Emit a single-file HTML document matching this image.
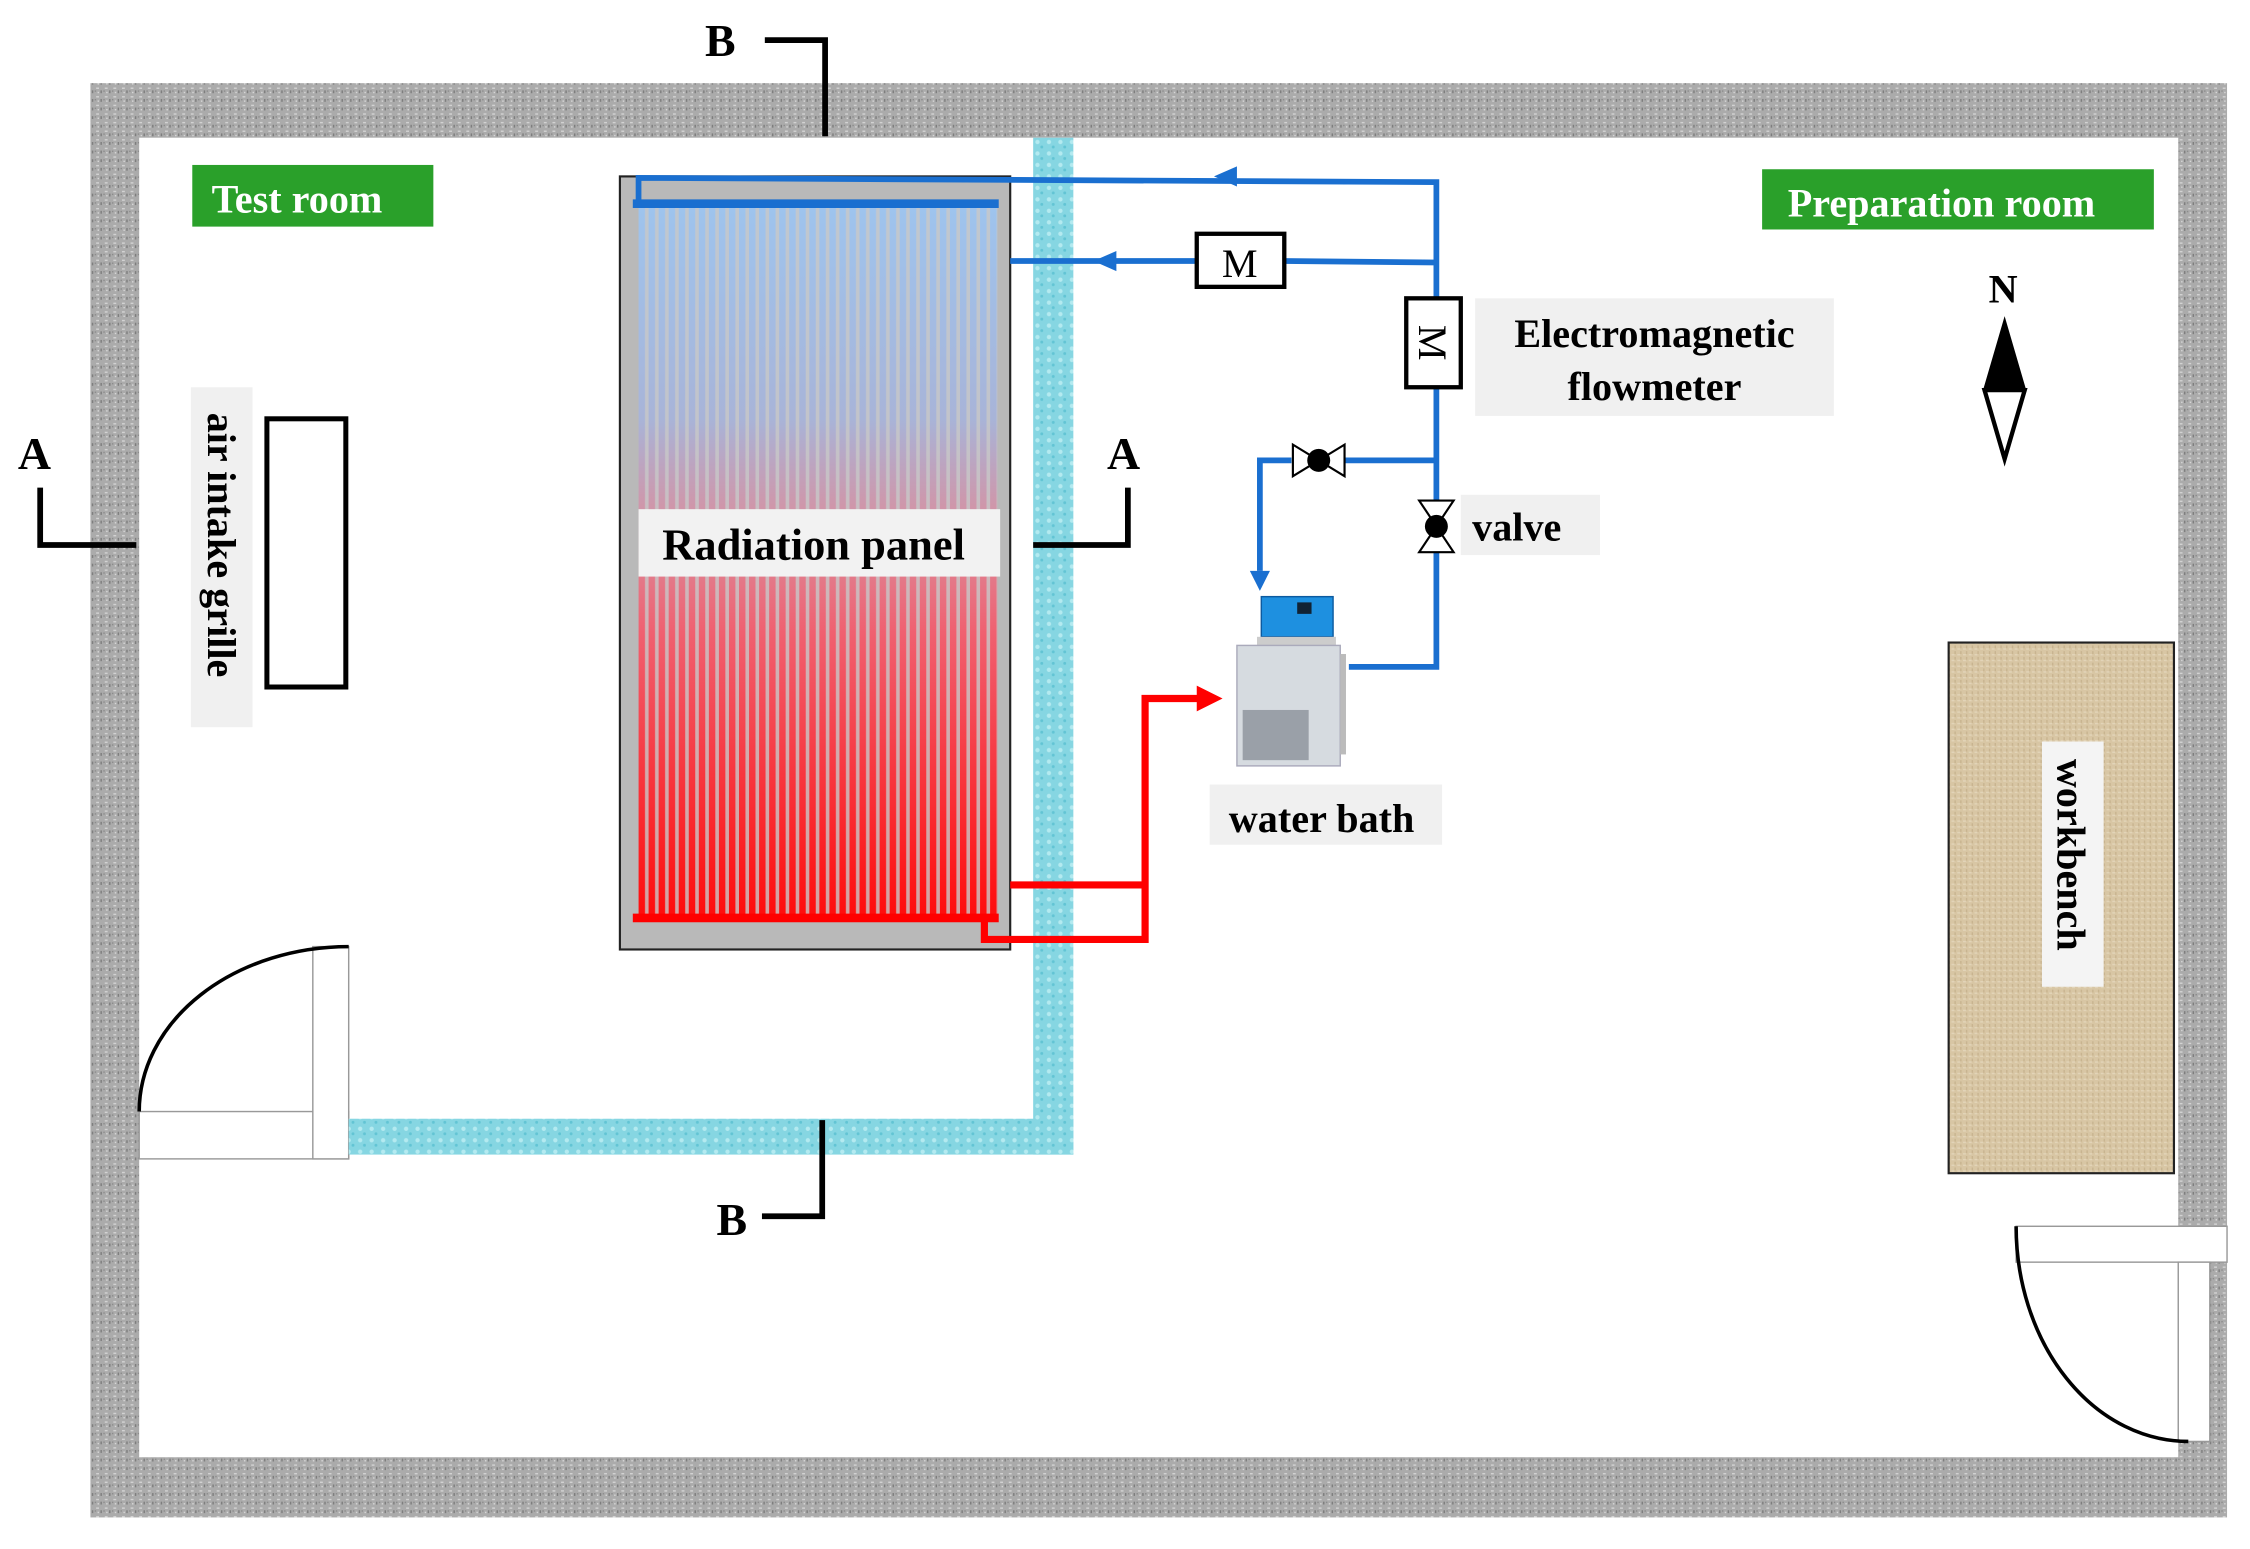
<!DOCTYPE html>
<html><head><meta charset="utf-8"><style>
html,body{margin:0;padding:0;background:#fff;}
svg{display:block;}
text{font-family:"Liberation Serif",serif;font-weight:bold;fill:#000;}
</style></head><body>
<svg width="2250" height="1549" viewBox="0 0 1568 1080" preserveAspectRatio="none" xmlns="http://www.w3.org/2000/svg">
<defs>
<linearGradient id="tube" x1="0" y1="0" x2="0" y2="1">
<stop offset="0" stop-color="#9ec4ee"/>
<stop offset="0.3" stop-color="#a8b4d8"/>
<stop offset="0.45" stop-color="#d890a0"/>
<stop offset="0.6" stop-color="#f06070"/>
<stop offset="1" stop-color="#ff0c0c"/>
</linearGradient>
<pattern id="stripes" x="445" y="0" width="7" height="10" patternUnits="userSpaceOnUse">
<rect x="4.5" y="0" width="2.5" height="10" fill="#c8c8c8" opacity="0.8"/>
</pattern>
<pattern id="wall" width="6" height="6" patternUnits="userSpaceOnUse">
<rect width="6" height="6" fill="#ababab"/>
<rect x="1" y="1" width="2" height="1" fill="#d2d2d2"/>
<rect x="4" y="3" width="1" height="2" fill="#7e7e7e"/>
<rect x="2" y="4" width="1" height="1" fill="#d6d6d6"/>
<rect x="0" y="3" width="1" height="1" fill="#8c8c8c"/>
</pattern>
<pattern id="glass" width="8" height="8" patternUnits="userSpaceOnUse">
<rect width="8" height="8" fill="#86d6e2"/>
<circle cx="3" cy="3" r="1.5" fill="#b4eaf0"/>
<circle cx="6" cy="6.5" r="1" fill="#62c4d4"/>
</pattern>
<pattern id="wood" width="4" height="4" patternUnits="userSpaceOnUse">
<rect width="4" height="4" fill="#d8c6a4"/>
<rect x="0" y="0" width="2" height="1" fill="#e2d4b8"/>
<rect x="2" y="2" width="1" height="2" fill="#c8b490"/>
</pattern>
</defs>

<rect x="63" y="58" width="1489" height="1000" fill="url(#wall)"/>
<rect x="97" y="96" width="1421" height="920" fill="#fff"/>

<rect x="97" y="775" width="146" height="33" fill="#fff" stroke="#999" stroke-width="1"/>
<rect x="218" y="660" width="25" height="148" fill="#fff" stroke="#999" stroke-width="1"/>
<path d="M97,775 A146,115 0 0 1 243,660" fill="none" stroke="#000" stroke-width="2.5"/>
<rect x="1405" y="855" width="147" height="25" fill="#fff" stroke="#999" stroke-width="1"/>
<rect x="1518" y="880" width="22" height="125" fill="#fff" stroke="#999" stroke-width="1"/>
<path d="M1405,855 A120,150 0 0 0 1525,1005" fill="none" stroke="#000" stroke-width="2.5"/>

<rect x="720" y="96" width="28" height="709" fill="url(#glass)"/>
<rect x="243" y="780" width="505" height="25" fill="url(#glass)"/>

<rect x="432" y="123" width="272" height="539" fill="#b9b9b9" stroke="#222" stroke-width="1.5"/>
<rect x="445" y="143" width="250" height="497" fill="url(#tube)"/>
<rect x="445" y="143" width="250" height="497" fill="url(#stripes)"/>
<rect x="445" y="355" width="252" height="47" fill="#f2f2f2"/>
<text x="567" y="390" font-size="31" text-anchor="middle">Radiation panel</text>

<g stroke="#1a6fd0" stroke-width="4" fill="none">
<line x1="441" y1="142" x2="696" y2="142" stroke-width="6"/>
<polyline points="445,142 445,124 1001,127 1001,465 940,465"/>
<polyline points="704,182 834,182"/>
<polyline points="895,182 1001,183"/>
<polyline points="1001,321 937,321"/>
<polyline points="900,321 878,321 878,398"/>
</g>
<g fill="#1a6fd0">
<polygon points="846,123 862,116 862,130"/>
<polygon points="762,182 778,175 778,189"/>
<polygon points="871,398 885,398 878,412"/>
</g>
<rect x="834" y="163" width="61" height="37" fill="#fff" stroke="#000" stroke-width="3"/>
<text x="864" y="193" font-size="28" text-anchor="middle" style="font-weight:normal">M</text>
<rect x="980" y="208" width="38" height="62" fill="#fff" stroke="#000" stroke-width="3"/>
<text x="0" y="0" font-size="28" text-anchor="middle" style="font-weight:normal" transform="translate(989,239) rotate(90)">M</text>
<g stroke="#000" stroke-width="1.5" fill="#fff">
<polygon points="901,310 901,332 937,310 937,332"/>
<polygon points="989,349 1013,349 989,385 1013,385"/>
</g>
<circle cx="919" cy="321" r="8" fill="#000"/>
<circle cx="1001" cy="367" r="8" fill="#000"/>

<g>
<rect x="879" y="416" width="50" height="28" fill="#1e90e0" stroke="#0c5aa0" stroke-width="1"/>
<rect x="904" y="420" width="10" height="8" fill="#123"/>
<rect x="876" y="444" width="55" height="6" fill="#ccc"/>
<rect x="862" y="450" width="72" height="84" fill="#d6dbe0" stroke="#aab" stroke-width="1"/>
<rect x="866" y="495" width="46" height="35" fill="#9aa0a8"/>
<rect x="934" y="456" width="4" height="70" fill="#bbb"/>
</g>

<g stroke="#ff0000" stroke-width="5" fill="none">
<line x1="441" y1="640" x2="696" y2="640" stroke-width="6"/>
<polyline points="704,617 798,617"/>
<polyline points="686,640 686,655 798,655 798,487 835,487"/>
</g>
<polygon points="852,487 834,478 834,496" fill="#ff0000"/>

<rect x="134" y="115" width="168" height="43" fill="#2aa02a"/>
<text x="207" y="148" font-size="28" style="fill:#fff" text-anchor="middle">Test room</text>
<rect x="1228" y="118" width="273" height="42" fill="#2aa02a"/>
<text x="1353" y="151" font-size="28" style="fill:#fff" text-anchor="middle">Preparation room</text>
<rect x="1028" y="208" width="250" height="82" fill="#f0f0f0"/>
<text x="1153" y="242" font-size="28" text-anchor="middle">Electromagnetic</text>
<text x="1153" y="279" font-size="28" text-anchor="middle">flowmeter</text>
<rect x="1018" y="345" width="97" height="42" fill="#f0f0f0"/>
<text x="1057" y="377" font-size="28" text-anchor="middle">valve</text>
<rect x="843" y="547" width="162" height="42" fill="#f0f0f0"/>
<text x="921" y="580" font-size="28" text-anchor="middle">water bath</text>

<rect x="133" y="270" width="43" height="237" fill="#f0f0f0"/>
<text font-size="28" text-anchor="middle" transform="translate(145,380) rotate(90)">air intake grille</text>
<rect x="186" y="292" width="55" height="187" fill="#fff" stroke="#000" stroke-width="3.5"/>

<rect x="1358" y="448" width="157" height="370" fill="url(#wood)" stroke="#222" stroke-width="1.5"/>
<rect x="1423" y="517" width="43" height="171" fill="#f4f4f4"/>
<text font-size="28" text-anchor="middle" transform="translate(1434,596) rotate(90)">workbench</text>

<g stroke="#000" stroke-width="4" fill="none">
<polyline points="533,28 575,28 575,95"/>
<polyline points="573,781 573,848 531,848"/>
<polyline points="28,340 28,380 95,380"/>
<polyline points="786,340 786,380 720,380"/>
</g>
<text x="502" y="39" font-size="32" text-anchor="middle">B</text>
<text x="510" y="861" font-size="32" text-anchor="middle">B</text>
<text x="24" y="327" font-size="32" text-anchor="middle">A</text>
<text x="783" y="327" font-size="32" text-anchor="middle">A</text>

<text x="1396" y="211" font-size="28" text-anchor="middle">N</text>
<polygon points="1397,224 1383,272 1411,272" fill="#000" stroke="#000" stroke-width="2"/>
<polygon points="1383,272 1411,272 1397,320" fill="#fff" stroke="#000" stroke-width="3"/>
</svg>
</body></html>
